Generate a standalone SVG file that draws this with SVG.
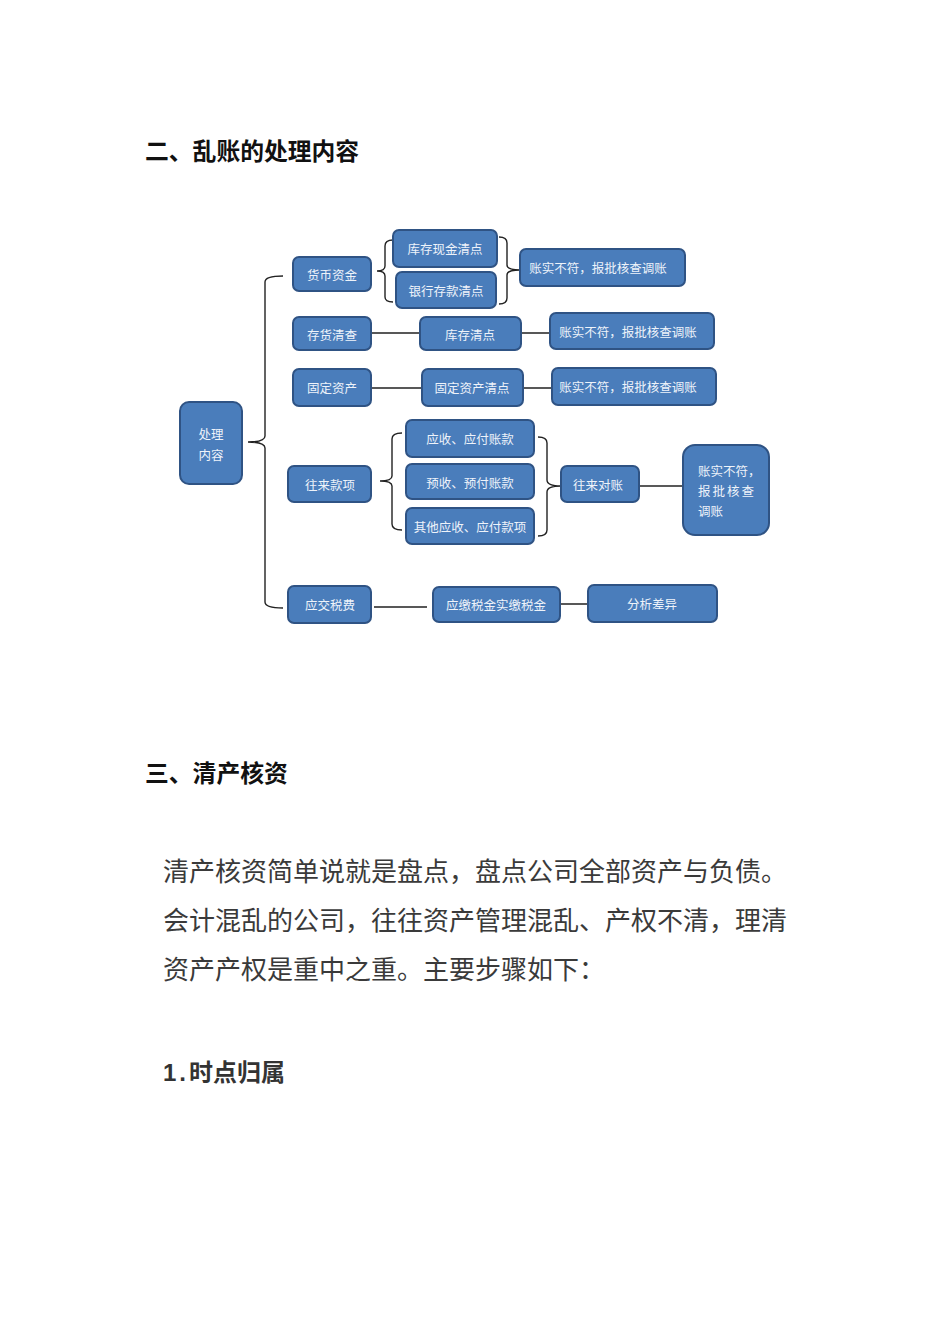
<svg xmlns="http://www.w3.org/2000/svg" width="950" height="1344" viewBox="0 0 950 1344">
<style>
.h{font-family:"Liberation Sans","Noto Sans CJK SC",sans-serif;font-weight:bold;font-size:23.8px;fill:#111}
.b{font-family:"Liberation Sans","Noto Sans CJK SC",sans-serif;font-size:26px;fill:#3a3a3a}
.s{font-family:"Liberation Sans","Noto Sans CJK SC",sans-serif;font-weight:bold;font-size:24px;fill:#333}
.n rect{fill:#4a7dbb;stroke:#2f5384;stroke-width:2}
.n text{font-family:"Noto Sans CJK SC",sans-serif;font-size:12.5px;fill:#eef3fa;text-anchor:middle;dominant-baseline:central}
.c{fill:none;stroke:#222;stroke-width:1.4}
</style>
<rect width="950" height="1344" fill="#fff"/>
<text class="h" x="145" y="160">二、乱账的处理内容</text>
<text class="h" x="145" y="782">三、清产核资</text>
<text class="b" x="163" y="881">清产核资简单说就是盘点，盘点公司全部资产与负债。</text>
<text class="b" x="163" y="930">会计混乱的公司，往往资产管理混乱、产权不清，理清</text>
<text class="b" x="163" y="979">资产产权是重中之重。主要步骤如下：</text>
<text class="s" x="163" y="1081"><tspan style="letter-spacing:3px">1.</tspan>时点归属</text>

<g id="connectors">
<path class="c" d="M283,276 Q265,276 265,282 L265,436 Q265,442 248,442 Q265,442 265,448 L265,602 Q265,608 283,608"/>
<path class="c" d="M393,240 Q385,240 385,246 L385,266 Q385,271 377,271 Q385,271 385,276 L385,297 Q385,302 393,302"/>
<path class="c" d="M499,237 Q507,237 507,243 L507,265 Q507,270 520,270 Q507,270 507,275 L507,298 Q507,304 499,304"/>
<path class="c" d="M371,333 L420,333 M521,333 L550,333" stroke="#777"/>
<path class="c" d="M371,388 L422,388 M523,388 L552,388"/>
<path class="c" d="M402,433 Q392,433 392,439 L392,476 Q392,481 380,481 Q392,481 392,486 L392,524 Q392,530 402,530"/>
<path class="c" d="M538,437 Q547,437 547,443 L547,480 Q547,486 561,486 Q547,486 547,492 L547,530 Q547,536 538,536"/>
<path class="c" d="M639,486 L683,486"/>
<path class="c" d="M374,607 L427,607 M560,604 L588,604"/>
</g>

<g id="n-root" class="n"><rect x="180" y="402" width="62" height="82" rx="9"/><text x="211" y="433">处理</text><text x="211" y="454">内容</text></g>
<g id="n-hbzj" class="n"><rect x="293" y="257" width="78" height="34" rx="6"/><text x="332" y="274">货币资金</text></g>
<g id="n-kcxj" class="n"><rect x="393" y="230" width="104" height="37" rx="6"/><text x="445" y="248">库存现金清点</text></g>
<g id="n-yhck" class="n"><rect x="396" y="272" width="100" height="36" rx="6"/><text x="446" y="290">银行存款清点</text></g>
<g id="n-zs1" class="n"><rect x="520" y="249" width="165" height="37" rx="6"/><text x="598" y="267">账实不符，报批核查调账</text></g>
<g id="n-chqc" class="n"><rect x="293" y="317" width="78" height="33" rx="6"/><text x="332" y="334">存货清查</text></g>
<g id="n-kcqd" class="n"><rect x="420" y="317" width="101" height="33" rx="6"/><text x="470" y="334">库存清点</text></g>
<g id="n-zs2" class="n"><rect x="550" y="313" width="164" height="36" rx="6"/><text x="628" y="331">账实不符，报批核查调账</text></g>
<g id="n-gdzc" class="n"><rect x="293" y="369" width="78" height="37" rx="6"/><text x="332" y="387">固定资产</text></g>
<g id="n-gdqd" class="n"><rect x="422" y="369" width="101" height="37" rx="6"/><text x="472" y="387">固定资产清点</text></g>
<g id="n-zs3" class="n"><rect x="552" y="368" width="164" height="37" rx="6"/><text x="628" y="386">账实不符，报批核查调账</text></g>
<g id="n-wlkx" class="n"><rect x="288" y="466" width="83" height="36" rx="6"/><text x="330" y="484">往来款项</text></g>
<g id="n-ysyf" class="n"><rect x="406" y="420" width="128" height="37" rx="6"/><text x="470" y="438">应收、应付账款</text></g>
<g id="n-yuyf" class="n"><rect x="406" y="464" width="128" height="35" rx="6"/><text x="470" y="482">预收、预付账款</text></g>
<g id="n-qt" class="n"><rect x="406" y="508" width="128" height="36" rx="6"/><text x="470" y="526">其他应收、应付款项</text></g>
<g id="n-wldz" class="n"><rect x="561" y="466" width="78" height="36" rx="6"/><text x="598" y="484">往来对账</text></g>
<g id="n-zs4" class="n"><rect x="683" y="445" width="86" height="90" rx="12"/><text x="698" y="470" style="text-anchor:start">账实不符，</text><text x="698" y="490" style="text-anchor:start;letter-spacing:2px">报批核查</text><text x="698" y="510" style="text-anchor:start">调账</text></g>
<g id="n-yjsf" class="n"><rect x="288" y="586" width="83" height="37" rx="6"/><text x="330" y="604">应交税费</text></g>
<g id="n-yjsj" class="n"><rect x="433" y="587" width="127" height="35" rx="6"/><text x="496" y="604">应缴税金实缴税金</text></g>
<g id="n-fxcy" class="n"><rect x="588" y="585" width="129" height="37" rx="6"/><text x="652" y="603">分析差异</text></g>
</svg>
